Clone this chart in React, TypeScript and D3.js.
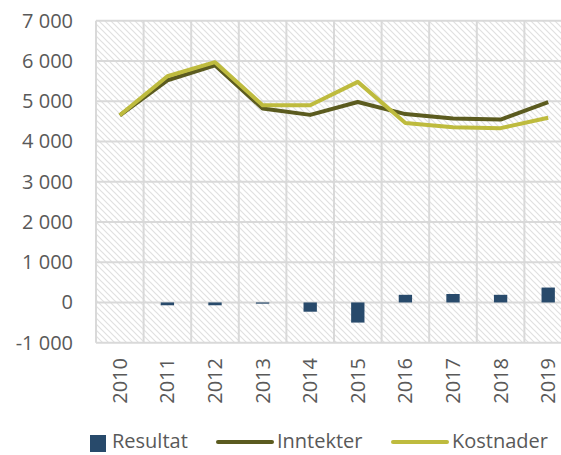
import React from 'react';
import * as d3 from 'd3';

const years = ['2010', '2011', '2012', '2013', '2014', '2015', '2016', '2017', '2018', '2019'];
const resultat = [0, -70, -70, -30, -230, -500, 190, 210, 190, 370];
const inntekter = [4650, 5520, 5890, 4820, 4660, 4980, 4680, 4570, 4545, 4980];
const kostnader = [4650, 5620, 5970, 4900, 4900, 5480, 4460, 4350, 4330, 4590];
const yTicks = [-1000, 0, 1000, 2000, 3000, 4000, 5000, 6000, 7000];

const W = 561;
const H = 455;
const font = '"Open Sans", sans-serif';
const textColor = '#595959';
const gridColor = '#d9d9d9';

const App = () => {
  // plot area runs past the right edge of the picture, like the reference crop
  const x = d3.scaleBand<string>().domain(years).range([96, 572]).padding(0);
  const y = d3.scaleLinear().domain([-1000, 7000]).range([342.7, 20.7]);
  const bw = x.bandwidth() * 0.28;
  const cx = (yr: string) => (x(yr) as number) + x.bandwidth() / 2;

  const line = d3.line<number>()
    .x((_, i) => cx(years[i]))
    .y(d => y(d));

  const fmt = (v: number) => (v < 0 ? '-' : '') + d3.format(',')(Math.abs(v)).replace(/,/g, ' ');

  return (
    <svg width={W} height={H} style={{ position: 'absolute', left: 0, top: 0, background: '#fff' }}>
      <defs>
        <pattern id="hatch" patternUnits="userSpaceOnUse" width="6" height="6">
          <path d="M-1,-1 L7,7 M-1,5 L1,7 M5,-1 L7,1" stroke="#e0e0e0" strokeWidth="1.2" />
        </pattern>
      </defs>

      <rect x={96} y={y(7000)} width={476} height={y(-1000) - y(7000)} fill="url(#hatch)" />

      {/* horizontal gridlines */}
      {yTicks.map(t => (
        <line key={'h' + t} x1={96} x2={572} y1={y(t)} y2={y(t)} stroke={gridColor} strokeWidth={2} />
      ))}
      {/* vertical gridlines at band edges */}
      {years.concat(['end']).map((yr, i) => {
        const xx = 96 + i * x.bandwidth();
        return <line key={'v' + yr} x1={xx} x2={xx} y1={y(7000)} y2={y(-1000)} stroke={gridColor} strokeWidth={2} />;
      })}

      {/* y tick labels */}
      {yTicks.map(t => (
        <text key={'yl' + t} x={73} y={y(t)} dy="0.35em" textAnchor="end"
          fontFamily={font} fontSize={20} fill={textColor}>{fmt(t)}</text>
      ))}

      {/* x tick labels */}
      {years.map(yr => (
        <text key={'xl' + yr} transform={`translate(${cx(yr)},358) rotate(-90)`} dy="0.35em"
          textAnchor="end" fontFamily={font} fontSize={20} fill={textColor}>{yr}</text>
      ))}

      {/* Resultat bars */}
      {resultat.map((v, i) => (
        <rect key={'b' + i} x={cx(years[i]) - bw / 2} y={Math.min(y(v), y(0))}
          width={bw} height={Math.abs(y(v) - y(0))} fill="#284a6b" />
      ))}

      <path d={line(inntekter) as string} fill="none" stroke="#5b5b1f" strokeWidth={4} strokeLinejoin="round" />
      <path d={line(kostnader) as string} fill="none" stroke="#bebb3e" strokeWidth={4} strokeLinejoin="round" />

      {/* legend */}
      <rect x={90} y={435} width={16} height={17} fill="#284a6b" />
      <text x={112} y={448} fontFamily={font} fontSize={20} fill={textColor}>Resultat</text>
      <line x1={218} x2={272} y1={442} y2={442} stroke="#5b5b1f" strokeWidth={4} strokeLinecap="round" />
      <text x={277} y={448} fontFamily={font} fontSize={20} fill={textColor}>Inntekter</text>
      <line x1={393} x2={447} y1={442} y2={442} stroke="#bebb3e" strokeWidth={4} strokeLinecap="round" />
      <text x={452} y={448} fontFamily={font} fontSize={20} fill={textColor}>Kostnader</text>
    </svg>
  );
};

export default App;
